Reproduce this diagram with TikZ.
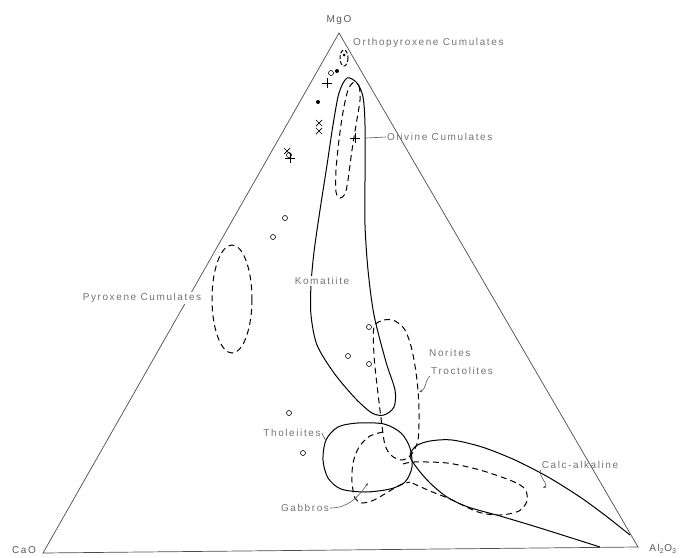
\documentclass[tikz,border=0pt]{standalone}
\usepackage{fontspec}
\setmainfont{Liberation Sans}
\newfontfamily\labelfont[LetterSpace=16]{Liberation Sans}
\usepackage{tikz}
\usetikzlibrary{arrows.meta,positioning,shapes.misc}
\tikzset{
  oxidelabel/.style={font=\labelfont\fontsize{10}{12}\selectfont,text=black!65,inner sep=1pt},
  fieldlabel/.style={font=\labelfont\fontsize{10}{12}\selectfont,text=black!55,inner sep=1pt},
  triedge/.style={draw=black!70,line width=0.7pt},
  fieldline/.style={line width=1pt,line join=round},
  fielddash/.style={line width=1pt,dash pattern=on 6pt off 4pt},
  leaderline/.style={draw=black!65,line width=0.6pt,-{Stealth[length=3.5pt,width=2.5pt]}},
  opendot/.style={circle,draw,line width=0.6pt,inner sep=0pt,minimum size=5pt},
  fulldot/.style={circle,fill,inner sep=0pt,minimum size=4pt},
  crossdot/.style={cross out,draw,line width=0.7pt,inner sep=0pt,minimum size=5.5pt},
  plusdot/.style={cross out,draw,line width=0.7pt,inner sep=0pt,minimum size=6pt,rotate=45}
}
\begin{document}
\begin{tikzpicture}[x=1pt,y=-1pt]
  \useasboundingbox (0,0) rectangle (680,557);
  \coordinate (mgo) at (339,33);
  \coordinate (cao) at (43,553);
  \coordinate (alo) at (638,547);
  \draw[triedge] (mgo) -- (cao) -- (alo) -- cycle;
  \node[oxidelabel] (mgolabel) at (339,20) {MgO};
  \node[oxidelabel] (caolabel) at (24,550) {CaO};
  \node[oxidelabel] (alolabel) at (663,549) {Al\textsubscript{2}O\textsubscript{3}};

  \draw[fieldline] plot[smooth cycle] coordinates {(347,78) (357,83) (363,97) (365,125) (365,180)
    (365,225) (368,270) (374,315) (386,362) (395,390) (394,407) (384,415) (372,413) (355,398)
    (334,373) (317,345) (311,315) (311,285) (314,252) (320,210) (327,165) (333,125) (339,93)};
  \draw[fielddash] plot[smooth cycle] coordinates {(354,82) (359,86) (360,100) (356,125) (352,150)
    (348,180) (345,194) (340,198) (336,192) (336,170) (339,140) (343,112) (348,90)};
  \draw[fielddash,dash pattern=on 4pt off 2pt] (344,58) ellipse (4 and 8);
  \node[fulldot,minimum size=3pt] (orthodot) at (344,55) {};
  \draw[fielddash] (232,299) ellipse (20 and 54);
  \draw[fielddash] plot[smooth cycle] coordinates {(374,327) (384,320) (395,321) (405,330) (412,350)
    (417,380) (419,410) (418,440) (411,455) (402,460) (392,456) (385,445) (381,418) (377,385)
    (374,355)};
  \draw[fieldline] plot[smooth cycle] coordinates {(358,423) (384,424) (401,433) (410,448) (412,467)
    (405,482) (390,489) (365,492) (341,489) (328,478) (323,460) (326,440) (338,427)};
  \draw[fielddash] plot[smooth] coordinates {(383,432) (370,436) (359,447) (353,463) (352,482)
    (355,498) (362,503) (374,500) (388,492) (400,485) (410,482)};
  \draw[fieldline] plot[smooth] coordinates {(600,547) (540,528) (500,516) (468,507) (447,497)
    (430,483) (417,468) (410,456) (416,446) (430,441) (452,440) (482,447) (515,460) (548,477)
    (580,497) (606,516) (630,535)};
  \draw[fielddash] plot[smooth] coordinates {(403,464) (414,462) (447,463) (480,470) (512,481)
    (525,489) (527,501) (519,511) (500,515) (478,512) (450,499) (430,491) (410,482)};

  \node[opendot] (oa) at (331,73) {};
  \node[fulldot] (fa) at (337,71) {};
  \node[plusdot] (pa) at (327,83) {};
  \node[fulldot] (fb) at (318,102) {};
  \node[crossdot] (xa) at (319,123) {};
  \node[crossdot] (xb) at (319,131) {};
  \node[opendot] (ob) at (289,155) {};
  \node[crossdot] (xc) at (287,151) {};
  \node[plusdot] (pb) at (290,158) {};
  \node[plusdot] (pc) at (355,138) {};
  \node[opendot] (oc) at (285,218) {};
  \node[opendot] (od) at (273,237) {};
  \node[opendot] (oe) at (369,327) {};
  \node[opendot] (of) at (348,356) {};
  \node[opendot] (og) at (369,364) {};
  \node[opendot] (oh) at (289,413) {};
  \node[opendot] (oi) at (303,453) {};

  \node[fieldlabel,anchor=west] (orthlabel) at (352,43) {Orthopyroxene Cumulates};
  \node[fieldlabel,anchor=west] (olivlabel) at (386,137) {Olivine Cumulates};
  \coordinate (olivtip) at (366,138);
  \draw[draw=black!65,line width=0.6pt] (olivlabel.west) -- (olivtip);
  \node[fieldlabel,fill=white] (komlabel) at (322,281) {Komatiite};
  \node[fieldlabel,fill=white] (pyrlabel) at (142,298) {Pyroxene Cumulates};
  \node[fieldlabel,anchor=west] (norlabel) at (428,353) {Norites};
  \node[fieldlabel,anchor=west] (trolabel) at (430,371) {Troctolites};
  \coordinate (trotip) at (419,392);
  \draw[leaderline] (trolabel.south west) to[out=225,in=20] (trotip);
  \node[fieldlabel] (thollabel) at (292,433) {Tholeiites};
  \coordinate (tholtip) at (326,441);
  \draw[draw=black!65,line width=0.6pt] (thollabel.east) -- (tholtip);
  \node[fieldlabel] (gablabel) at (305,508) {Gabbros};
  \coordinate (gabtip) at (368,483);
  \draw[leaderline] (gablabel.east) to[out=0,in=235] (gabtip);
  \node[fieldlabel] (calclabel) at (580,465) {Calc-alkaline};
  \coordinate (calctip) at (543,488);
  \draw[leaderline] (calclabel.south west) to[out=250,in=30] (calctip);
\end{tikzpicture}
\end{document}
